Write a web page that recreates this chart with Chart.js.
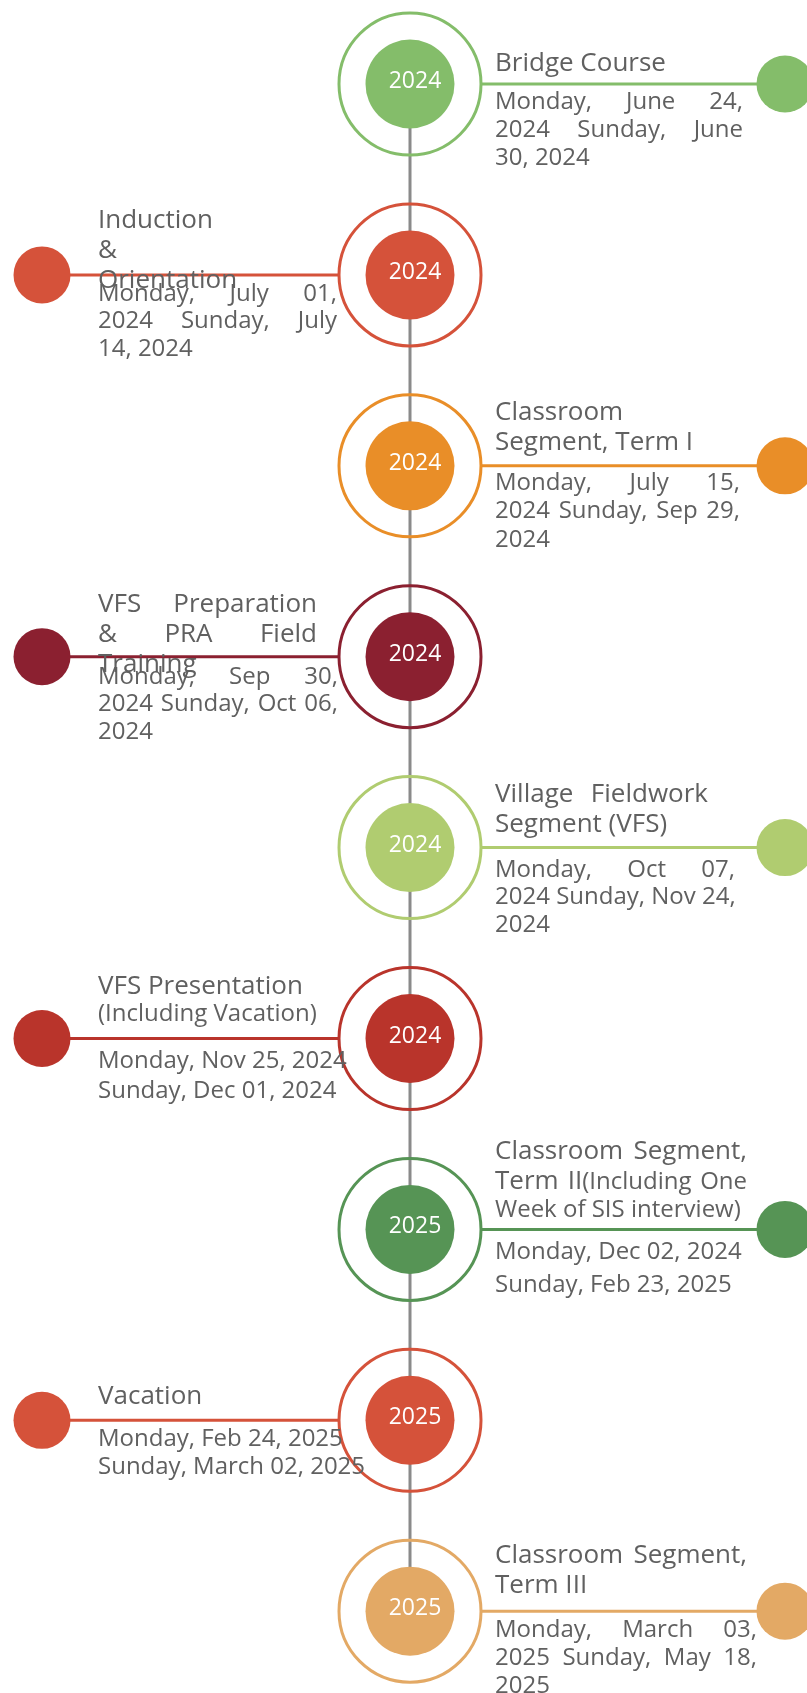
<!DOCTYPE html>
<html>
<head>
<meta charset="utf-8">
<script src="https://cdn.jsdelivr.net/npm/chart.js@4.4.1/dist/chart.umd.min.js"></script>
<style>
    html, body { margin: 0; padding: 0; background: #ffffff; }
    #wrap { width: 807px; height: 1693px; }
</style>
</head>
<body>
<div id="wrap"><canvas id="timeline" width="807" height="1693"></canvas></div>
<script>
// Programme phases, top to bottom
const phases = [
    'Bridge Course',
    'Induction & Orientation',
    'Classroom Segment, Term I',
    'VFS Preparation & PRA Field Training',
    'Village Fieldwork Segment (VFS)',
    'VFS Presentation',
    'Classroom Segment, Term II',
    'Vacation',
    'Classroom Segment, Term III',
];
const phaseNotes = ['', '', '', '', '', '(Including Vacation)', '(Including One Week of SIS interview)', '', ''];
const startDates = [
    'Monday, June 24, 2024', 'Monday, July 01, 2024', 'Monday, July 15, 2024',
    'Monday, Sep 30, 2024', 'Monday, Oct 07, 2024', 'Monday, Nov 25, 2024',
    'Monday, Dec 02, 2024', 'Monday, Feb 24, 2025', 'Monday, March 03, 2025',
];
const endDates = [
    'Sunday, June 30, 2024', 'Sunday, July 14, 2024', 'Sunday, Sep 29, 2024',
    'Sunday, Oct 06, 2024', 'Sunday, Nov 24, 2024', 'Sunday, Dec 01, 2024',
    'Sunday, Feb 23, 2025', 'Sunday, March 02, 2025', 'Sunday, May 18, 2025',
];
const years = ['2024', '2024', '2024', '2024', '2024', '2024', '2025', '2025', '2025'];
const sides = ['right', 'left', 'right', 'left', 'right', 'left', 'right', 'left', 'right'];
const colors = ['#84bd6a', '#d5523a', '#e98e28', '#8b2030', '#b0cc70', '#b9342b', '#569455', '#d5523a', '#e3a965'];

// layout (px in scale units)
const W = 807, H = 1693;
const ROW_Y0 = 84, ROW_STEP = 190.9;
const SPINE_X = 410;
const RING_R = 71, CORE_R = 44.5, DOT_R = 28.5;
const DOT_X = { right: 785, left: 42 };
const TEXT_X = { right: 495, left: 98 };
const FAMILY = '"Open Sans", "Noto Sans", sans-serif';
const TITLE_FONT = `26px ${FAMILY}`;
const NOTE_FONT = `24px ${FAMILY}`;
const DATE_FONT = `24px ${FAMILY}`;
const TEXT_COLOR = '#606060';

// text wrapping per row: words per line, first baseline offset, justify box (0 = none)
const titleBreaks = [[2], [1, 1, 1], [1, 3], [2, 3, 1], [2, 2], [2, 2], [2, 4, 4], [1], [2, 2]];
const titleTop = [-13, -47, -46, -45, -46, -45, -70, -16, -48];
const titleBox = [0, 0, 0, 219, 213, 0, 252, 0, 252];
const dateBreaks = [[3, 3, 2], [3, 3, 2], [3, 4, 1], [3, 4, 1], [3, 4, 1], [4, 4], [4, 4], [4, 4], [3, 4, 1]];
const dateTop = [25, 26, 24, 27, 29, 29, 30, 26, 26];
const dateStep = [28, 27.5, 28.5, 27.5, 27.5, 30, 33, 28, 28];
const dateBox = [248, 239, 245, 240, 240, 0, 0, 0, 262];

const rows = phases.map((_, i) => i);

function toTokens(text, font, glueFirst) {
    if (!text) return [];
    return text.split(' ').map((t, k) => ({ t, font, glue: glueFirst && k === 0 }));
}

function splitLines(tokens, counts) {
    const out = [];
    let p = 0;
    counts.forEach((n) => {
        out.push(tokens.slice(p, p + n));
        p += n;
    });
    return out;
}

function drawLine(ctx, line, x, y, boxW) {
    const widths = line.map((tk) => {
        ctx.font = tk.font;
        return ctx.measureText(tk.t).width;
    });
    const gaps = line.map((tk, k) => {
        if (k === 0 || tk.glue) return 0;
        ctx.font = tk.font;
        return ctx.measureText(' ').width;
    });
    let extra = 0;
    const openGaps = line.filter((tk, k) => k > 0 && !tk.glue).length;
    if (boxW > 0 && openGaps > 0) {
        const natural = widths.reduce((a, b) => a + b, 0) + gaps.reduce((a, b) => a + b, 0);
        extra = Math.max(0, (boxW - natural) / openGaps);
    }
    let cx = x;
    line.forEach((tk, k) => {
        if (k > 0) cx += gaps[k] + (tk.glue ? 0 : extra);
        ctx.font = tk.font;
        ctx.fillText(tk.t, cx, y);
        cx += widths[k];
    });
}

const timelineText = {
    id: 'timelineText',
    afterDatasetsDraw(chart) {
        const { ctx, scales: { x, y } } = chart;
        ctx.save();
        ctx.textBaseline = 'alphabetic';
        rows.forEach((i) => {
            const cy = y.getPixelForValue(i);
            const cx = x.getPixelForValue(SPINE_X);

            ctx.fillStyle = '#ffffff';
            ctx.font = `23px ${FAMILY}`;
            ctx.textAlign = 'center';
            ctx.fillText(years[i], cx + 5, cy + 4);

            ctx.textAlign = 'left';
            ctx.fillStyle = TEXT_COLOR;
            const tx = x.getPixelForValue(TEXT_X[sides[i]]);

            const tTokens = toTokens(phases[i], TITLE_FONT, false).concat(toTokens(phaseNotes[i], NOTE_FONT, true));
            const tLines = splitLines(tTokens, titleBreaks[i]);
            let by = cy + titleTop[i];
            tLines.forEach((line, k) => {
                const last = k === tLines.length - 1;
                drawLine(ctx, line, tx, by, last ? 0 : titleBox[i]);
                const next = tLines[k + 1];
                if (next) by += next.some((tk) => tk.font === TITLE_FONT) ? 30 : 27.5;
            });

            const dTokens = toTokens(startDates[i] + ' ' + endDates[i], DATE_FONT, false);
            const dLines = splitLines(dTokens, dateBreaks[i]);
            dLines.forEach((line, k) => {
                const last = k === dLines.length - 1;
                drawLine(ctx, line, tx, cy + dateTop[i] + k * dateStep[i], last ? 0 : dateBox[i]);
            });
        });
        ctx.restore();
    },
};

const whiteBg = {
    id: 'whiteBg',
    beforeDraw(c) {
        const { ctx, width, height } = c;
        ctx.save();
        ctx.fillStyle = '#ffffff';
        ctx.fillRect(0, 0, width, height);
        ctx.restore();
    },
};

const spine = {
    label: 'spine',
    data: [{ x: SPINE_X, y: 0 }, { x: SPINE_X, y: rows.length - 1 }],
    showLine: true,
    borderColor: '#8a8a8a',
    borderWidth: 3,
    pointRadius: 0,
    clip: false,
    order: 6,
};

const connectors = rows.map((i) => ({
    label: 'link ' + i,
    data: [
        { x: sides[i] === 'right' ? SPINE_X + RING_R : SPINE_X - RING_R, y: i },
        { x: DOT_X[sides[i]], y: i },
    ],
    showLine: true,
    borderColor: colors[i],
    borderWidth: 3,
    pointRadius: 0,
    clip: false,
    order: 5,
}));

const rings = {
    label: 'rings',
    data: rows.map((i) => ({ x: SPINE_X, y: i })),
    pointRadius: RING_R,
    pointBackgroundColor: 'rgba(255,255,255,0)',
    pointBorderColor: colors,
    pointBorderWidth: 3,
    clip: false,
    order: 3,
};

const cores = {
    label: 'years',
    data: rows.map((i) => ({ x: SPINE_X, y: i })),
    pointRadius: CORE_R,
    pointBackgroundColor: colors,
    pointBorderWidth: 0,
    clip: false,
    order: 2,
};

const dots = {
    label: 'phase dots',
    data: rows.map((i) => ({ x: DOT_X[sides[i]], y: i })),
    pointRadius: DOT_R,
    pointBackgroundColor: colors,
    pointBorderWidth: 0,
    clip: false,
    order: 1,
};

new Chart(document.getElementById('timeline').getContext('2d'), {
    type: 'scatter',
    data: { datasets: [dots, cores, rings, ...connectors, spine] },
    options: {
        responsive: false,
        animation: false,
        devicePixelRatio: 1,
        events: [],
        layout: { autoPadding: false, padding: 0 },
        plugins: { legend: { display: false }, tooltip: { enabled: false }, title: { display: false } },
        scales: {
            x: { type: 'linear', display: false, min: 0, max: W },
            y: {
                type: 'linear',
                display: false,
                reverse: true,
                min: -ROW_Y0 / ROW_STEP,
                max: (H - ROW_Y0) / ROW_STEP,
            },
        },
    },
    plugins: [whiteBg, timelineText],
});
</script>
</body>
</html>
